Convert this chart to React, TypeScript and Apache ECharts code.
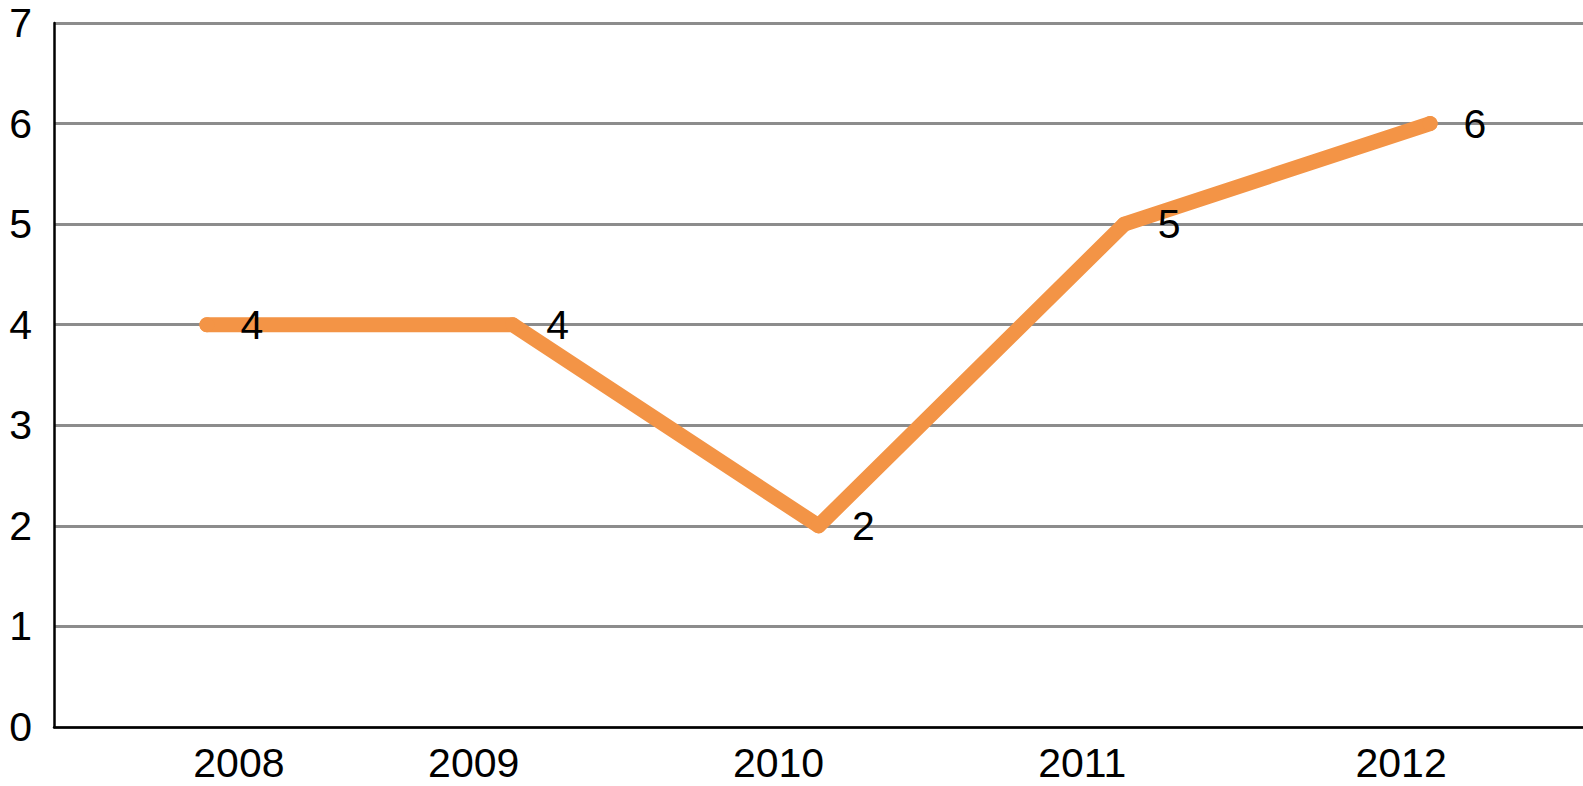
import React, { useEffect, useRef } from "react";
import * as echarts from "echarts";

const categories = ["2008", "2009", "2010", "2011", "2012"];
const values = [4, 4, 2, 5, 6];
const yTicks = [0, 1, 2, 3, 4, 5, 6, 7];

// horizontal shift (px) of each category label relative to its band centre
const labelShift = [32, -39, -40, -42, -29];

const FONT = "'Liberation Sans', Arial, Helvetica, sans-serif";
const ORANGE = "#F39446";

export default function App() {
  const ref = useRef<HTMLDivElement>(null);
  useEffect(() => {
    document.body.style.margin = "0";
    const chart = echarts.init(ref.current!, null, { renderer: "svg" });
    const rich: Record<string, any> = {};
    categories.forEach((c, i) => {
      const s = labelShift[i];
      rich["c" + i] = {
        fontSize: 41,
        fontFamily: FONT,
        color: "#000",
        padding: s >= 0 ? [0, 0, 0, 2 * s] : [0, -2 * s, 0, 0],
      };
    });
    chart.setOption({
      animation: false,
      backgroundColor: "#fff",
      grid: { left: 54, right: 0, top: 23, bottom: 59, containLabel: false },
      xAxis: {
        type: "category",
        data: categories,
        boundaryGap: true,
        axisLine: { show: true, lineStyle: { color: "#000", width: 2.5 } },
        axisTick: { show: false },
        splitLine: { show: false },
        axisLabel: {
          margin: 15,
          interval: 0,
          formatter: (v: string) => {
            const i = categories.indexOf(v);
            return "{c" + i + "|" + v + "}";
          },
          rich,
        },
      },
      yAxis: {
        type: "value",
        min: yTicks[0],
        max: yTicks[yTicks.length - 1],
        interval: 1,
        axisLine: { show: true, lineStyle: { color: "#000", width: 2.5 } },
        axisTick: { show: false },
        splitLine: { show: true, lineStyle: { color: "#8c8c8c", width: 3 } },
        axisLabel: {
          margin: 22,
          fontSize: 41,
          fontFamily: FONT,
          color: "#000",
        },
      },
      series: [
        {
          type: "line",
          data: values,
          symbol: "circle",
          symbolSize: 15,
          itemStyle: { color: ORANGE },
          lineStyle: { color: ORANGE, width: 15, cap: "round", join: "round" },
          label: {
            show: true,
            position: "right",
            distance: 26,
            fontSize: 41,
            fontFamily: FONT,
            color: "#000",
          },
        },
      ],
    });
    return () => chart.dispose();
  }, []);
  return <div ref={ref} style={{ width: 1583, height: 786 }} />;
}
